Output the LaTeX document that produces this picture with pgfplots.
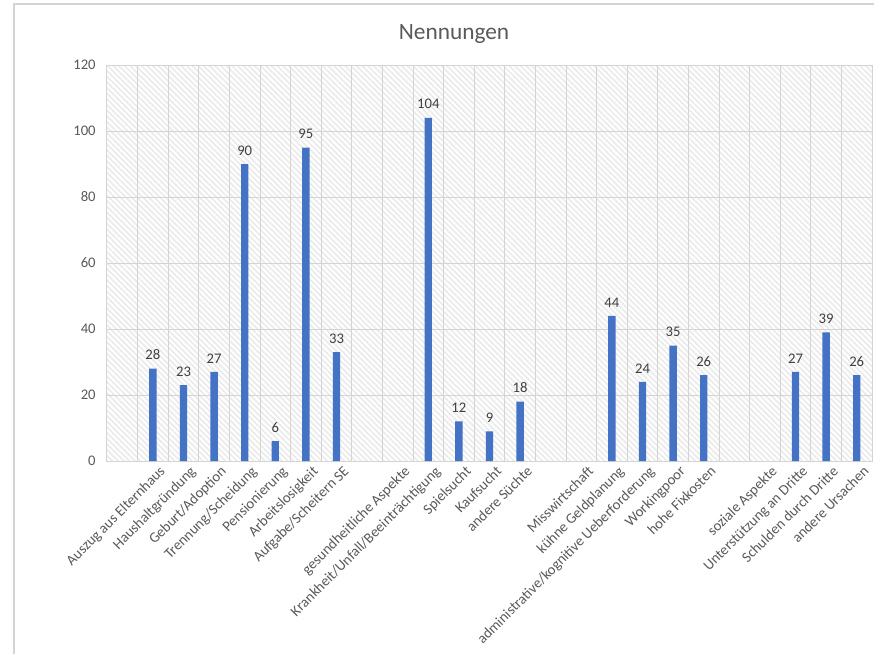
\documentclass[border=0pt]{standalone}
\usepackage{pgfplots}
\pgfplotsset{compat=1.18}
\usepackage{fontspec}
\setmainfont{Carlito}
\usetikzlibrary{patterns.meta}
\definecolor{barblue}{HTML}{4472C4}
\definecolor{txtgray}{HTML}{595959}
\definecolor{lblgray}{HTML}{404040}
\definecolor{gridgray}{HTML}{D4D4D4}
\definecolor{hatchgray}{HTML}{EBEBEB}
\begin{document}
\begin{tikzpicture}[x=0.75pt,y=0.75pt]
\begin{axis}[
  at={(0,0)}, anchor=south west,
  scale only axis,
  width=573.75pt, height=297pt,
  xmin=-0.5, xmax=24.5,
  ymin=0, ymax=120,
  ytick={0,20,40,60,80,100,120},
  xtick={0,1,2,3,4,5,6,7,8,9,10,11,12,13,14,15,16,17,18,19,20,21,22,23,24},
  xticklabels={{},Auszug aus Elternhaus,Haushaltgründung,Geburt/Adoption,Trennung/Scheidung,Pensionierung,Arbeitslosigkeit,Aufgabe/Scheitern SE,{},gesundheitliche Aspekte,Krankheit/Unfall/Beeinträchtigung,Spielsucht,Kaufsucht,andere Süchte,{},Misswirtschaft,kühne Geldplanung,administrative/kognitive Ueberforderung,Workingpoor,hohe Fixkosten,{},soziale Aspekte,Unterstützung an Dritte,Schulden durch Dritte,andere Ursachen},
  minor xtick={-0.5,0.5,1.5,2.5,3.5,4.5,5.5,6.5,7.5,8.5,9.5,10.5,11.5,12.5,13.5,14.5,15.5,16.5,17.5,18.5,19.5,20.5,21.5,22.5,23.5,24.5},
  xminorgrids=true, ymajorgrids=true, xmajorgrids=false,
  major tick length=0pt, minor tick length=0pt,
  grid style={gridgray, line width=0.75pt},
  minor grid style={gridgray, line width=0.75pt},
  axis line style={gridgray, line width=0.75pt},
  axis background/.style={pattern={Lines[angle=-45,distance=3pt,line width=1.3pt]}, pattern color=hatchgray},
  /pgf/number format/assume math mode=true,
  yticklabel style={font=\fontsize{11}{13}\selectfont, text=txtgray, xshift=-5pt},
  xticklabel style={font=\fontsize{11}{13}\selectfont, text=txtgray, rotate=45, anchor=north east, inner sep=0pt, yshift=-5pt, xshift=1pt},
  ybar, bar width=5.5pt,
  nodes near coords,
  every node near coord/.append style={font=\fontsize{11}{13}\selectfont, text=lblgray, yshift=3pt},
]
\addplot[fill=barblue, draw=none] coordinates {
(1,28) (2,23) (3,27) (4,90) (5,6) (6,95) (7,33)
(10,104) (11,12) (12,9) (13,18)
(16,44) (17,24) (18,35) (19,26)
(22,27) (23,39) (24,26)
};
\end{axis}
\node[font=\fontsize{17.5}{20}\selectfont, text=txtgray] at (347,427) {Nennungen};
\draw[gridgray, line width=0.9pt] (-93,-193) -- (-93,457) -- (767,457);
\pgfresetboundingbox
\path[use as bounding box] (-107,-193) rectangle (767,461);
\end{tikzpicture}
\end{document}
